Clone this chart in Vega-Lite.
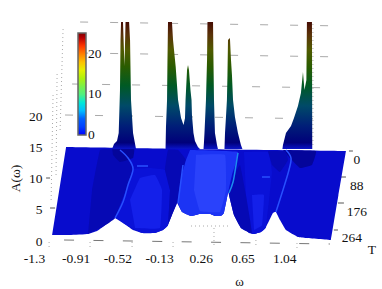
{"$schema":"https://vega.github.io/schema/vega-lite/v6.json","width":382,"height":289,"padding":0,"autosize":"none","background":"white","config":{"view":{"stroke":null},"font":"Liberation Serif"},"resolve":{"scale":{"color":"independent"}},"encoding":{"x":{"field":"w","type":"quantitative","scale":{"domain":[-1.786,1.786],"nice":false,"zero":false},"axis":{"values":[-1.3,-0.91,-0.52,-0.13,0.26,0.65,1.04],"labelExpr":"''+datum.value","grid":false,"domain":false,"ticks":false,"offset":-40,"labelPadding":2,"labelOffset":-18,"labelFont":"Liberation Serif","labelFontSize":13.5,"labelColor":"#111","labelFlush":false,"labelOverlap":false,"title":"ω","titleFont":"Liberation Serif","titleFontSize":13,"titleFontWeight":"normal","titleColor":"#111","titleX":239,"titleY":32,"titleBaseline":"middle"}},"y":{"field":"a","type":"quantitative","scale":{"domain":[-7.68,38.56],"nice":false,"zero":false},"axis":{"values":[0,5,10,15,20],"format":"d","grid":false,"domain":false,"ticks":false,"offset":-46,"labelPadding":4,"labelFont":"Liberation Serif","labelFontSize":13.5,"labelColor":"#111","labelFlush":false,"labelOverlap":false,"title":"A(ω)","titleFont":"Liberation Serif","titleFontSize":13.5,"titleFontWeight":"normal","titleColor":"#111","titleX":-24,"titleY":178}}},"layer":[{"data":{"values":[{"p":"h1","w":-1.037,"a":35.04},{"p":"h1","w":1.449,"a":34.4},{"p":"h2","w":-1.037,"a":30.08},{"p":"h2","w":1.449,"a":29.44},{"p":"h3","w":-1.112,"a":25.12},{"p":"h3","w":1.393,"a":24.48},{"p":"h4","w":-1.178,"a":20.16},{"p":"h4","w":1.29,"a":19.52}]},"mark":{"type":"line","stroke":"#aaa","strokeWidth":1,"strokeDash":[8,22]},"encoding":{"detail":{"field":"p"}}},{"data":{"values":[{"p":"l1","w":-1.308,"a":6.56},{"p":"l1","w":-1.29,"a":23.36},{"p":"l2","w":-1.262,"a":10.56},{"p":"l2","w":-1.252,"a":27.04},{"p":"l3","w":-1.224,"a":17.76},{"p":"l3","w":-1.196,"a":34.08},{"p":"l4","w":1.14,"a":34.72},{"p":"l4","w":1.14,"a":15.2},{"p":"f0","w":-1.327,"a":-0.16},{"p":"f0","w":-1.327,"a":-0.96},{"p":"f1","w":-0.944,"a":-0.16},{"p":"f1","w":-0.944,"a":-0.96},{"p":"f2","w":-0.551,"a":-0.16},{"p":"f2","w":-0.551,"a":-0.96},{"p":"f3","w":-0.168,"a":-0.16},{"p":"f3","w":-0.168,"a":-0.96},{"p":"f4","w":0.215,"a":2.08},{"p":"f4","w":0.215,"a":-1.12},{"p":"f5","w":0.607,"a":0.16},{"p":"f5","w":0.607,"a":-0.96},{"p":"f6","w":0.991,"a":-0.32},{"p":"f6","w":0.991,"a":-1.12},{"p":"b0","w":0,"a":2.4},{"p":"b0","w":0.346,"a":2.4}]},"mark":{"type":"line","stroke":"#aaa","strokeWidth":1,"strokeDash":[1,3]},"encoding":{"detail":{"field":"p"}}},{"data":{"values":[{"p":"front","w":-1.187,"a":0.16},{"p":"front","w":1.299,"a":-0.48}]},"mark":{"type":"line","stroke":"#777","strokeWidth":1,"strokeDash":[10,19.4]},"encoding":{"detail":{"field":"p"}}},{"data":{"values":[{"p":"t0","w":1.477,"a":14.4},{"p":"t0","w":1.514,"a":14.4},{"p":"t1","w":1.402,"a":10.24},{"p":"t1","w":1.449,"a":10.24},{"p":"t2","w":1.374,"a":6.08},{"p":"t2","w":1.43,"a":6.08},{"p":"t3","w":1.336,"a":1.76},{"p":"t3","w":1.374,"a":1.76},{"p":"y1","w":-1.355,"a":10.08},{"p":"y1","w":-1.318,"a":10.08},{"p":"y2","w":-1.318,"a":5.28},{"p":"y2","w":-1.271,"a":5.28}]},"mark":{"type":"line","stroke":"#555","strokeWidth":1},"encoding":{"detail":{"field":"p"}}},{"data":{"values":[{"p":"m","s":"base","w":-1.168,"a":15.04},{"p":"m","s":"base","w":-1.168,"a":15.04},{"p":"m","s":"base","w":0,"a":14.72},{"p":"m","s":"base","w":1.449,"a":14.4},{"p":"m","s":"base","w":1.449,"a":14.4},{"p":"m","s":"base","w":1.449,"a":14.4},{"p":"m","s":"base","w":1.378,"a":7.3},{"p":"m","s":"base","w":1.308,"a":0.16},{"p":"m","s":"base","w":1.308,"a":0.16},{"p":"m","s":"base","w":1.308,"a":0.16},{"p":"m","s":"base","w":1.075,"a":0.48},{"p":"m","s":"base","w":1,"a":0.64},{"p":"m","s":"base","w":0.888,"a":1.76},{"p":"m","s":"base","w":0.832,"a":3.36},{"p":"m","s":"base","w":0.794,"a":4.64},{"p":"m","s":"base","w":0.766,"a":4.48},{"p":"m","s":"base","w":0.701,"a":2.24},{"p":"m","s":"base","w":0.654,"a":1.44},{"p":"m","s":"base","w":0.589,"a":1.12},{"p":"m","s":"base","w":0.533,"a":1.44},{"p":"m","s":"base","w":0.467,"a":2.08},{"p":"m","s":"base","w":0.402,"a":4.16},{"p":"m","s":"base","w":0.355,"a":7.36},{"p":"m","s":"base","w":0.346,"a":7.68},{"p":"m","s":"base","w":0.308,"a":4.48},{"p":"m","s":"base","w":0.28,"a":4},{"p":"m","s":"base","w":0.224,"a":4},{"p":"m","s":"base","w":0.178,"a":4.32},{"p":"m","s":"base","w":0.084,"a":4.32},{"p":"m","s":"base","w":0,"a":4},{"p":"m","s":"base","w":-0.084,"a":4.64},{"p":"m","s":"base","w":-0.131,"a":6.08},{"p":"m","s":"base","w":-0.178,"a":4.16},{"p":"m","s":"base","w":-0.215,"a":2.56},{"p":"m","s":"base","w":-0.262,"a":1.76},{"p":"m","s":"base","w":-0.336,"a":1.28},{"p":"m","s":"base","w":-0.458,"a":1.28},{"p":"m","s":"base","w":-0.542,"a":1.76},{"p":"m","s":"base","w":-0.607,"a":2.56},{"p":"m","s":"base","w":-0.664,"a":3.36},{"p":"m","s":"base","w":-0.71,"a":3.68},{"p":"m","s":"base","w":-0.757,"a":3.2},{"p":"m","s":"base","w":-0.813,"a":2.4},{"p":"m","s":"base","w":-0.879,"a":1.6},{"p":"m","s":"base","w":-0.963,"a":1.12},{"p":"m","s":"base","w":-1.131,"a":0.96},{"p":"m","s":"base","w":-1.299,"a":0.96},{"p":"m","s":"base","w":-1.299,"a":0.96},{"p":"A","s":"darkish","w":-0.963,"a":1.12},{"p":"A","s":"darkish","w":-0.813,"a":2.4},{"p":"A","s":"darkish","w":-0.71,"a":3.68},{"p":"A","s":"darkish","w":-0.589,"a":8.96},{"p":"A","s":"darkish","w":-0.542,"a":11.52},{"p":"A","s":"darkish","w":-0.589,"a":13.28},{"p":"A","s":"darkish","w":-0.664,"a":14.56},{"p":"A","s":"darkish","w":-0.85,"a":14.56},{"p":"A","s":"darkish","w":-0.925,"a":8.16},{"p":"B","s":"midlow","w":-0.71,"a":3.68},{"p":"B","s":"midlow","w":-0.607,"a":2.56},{"p":"B","s":"midlow","w":-0.458,"a":1.28},{"p":"B","s":"midlow","w":-0.336,"a":1.28},{"p":"B","s":"midlow","w":-0.262,"a":1.76},{"p":"B","s":"midlow","w":-0.215,"a":2.56},{"p":"B","s":"midlow","w":-0.196,"a":8.16},{"p":"B","s":"midlow","w":-0.243,"a":11.36},{"p":"B","s":"midlow","w":-0.383,"a":11.68},{"p":"B","s":"midlow","w":-0.542,"a":11.52},{"p":"B","s":"midlow","w":-0.589,"a":8.96},{"p":"B2","s":"mid","w":-0.523,"a":2.08},{"p":"B2","s":"mid","w":-0.29,"a":2.08},{"p":"B2","s":"mid","w":-0.271,"a":8.16},{"p":"B2","s":"mid","w":-0.336,"a":10.56},{"p":"B2","s":"mid","w":-0.477,"a":10.08},{"p":"B2","s":"mid","w":-0.57,"a":6.56},{"p":"C","s":"darkish","w":-0.215,"a":2.56},{"p":"C","s":"darkish","w":-0.178,"a":4.16},{"p":"C","s":"darkish","w":-0.131,"a":6.08},{"p":"C","s":"darkish","w":-0.093,"a":10.08},{"p":"C","s":"darkish","w":-0.047,"a":12.96},{"p":"C","s":"darkish","w":-0.121,"a":14.56},{"p":"C","s":"darkish","w":-0.215,"a":14.56},{"p":"C","s":"darkish","w":-0.243,"a":11.36},{"p":"C","s":"darkish","w":-0.196,"a":8.16},{"p":"mid2","s":"midlow","w":0.495,"a":14.24},{"p":"mid2","s":"midlow","w":0.72,"a":14.24},{"p":"mid2","s":"midlow","w":0.757,"a":11.04},{"p":"mid2","s":"midlow","w":0.701,"a":2.24},{"p":"mid2","s":"midlow","w":0.654,"a":1.44},{"p":"mid2","s":"midlow","w":0.589,"a":1.12},{"p":"mid2","s":"midlow","w":0.533,"a":1.44},{"p":"mid2","s":"midlow","w":0.514,"a":7.36},{"p":"mid3","s":"mid","w":0.57,"a":7.36},{"p":"mid3","s":"mid","w":0.682,"a":7.36},{"p":"mid3","s":"mid","w":0.664,"a":2.56},{"p":"mid3","s":"mid","w":0.589,"a":1.76},{"p":"c1","s":"bright","w":-0.009,"a":14.56},{"p":"c1","s":"bright","w":0.439,"a":14.24},{"p":"c1","s":"bright","w":0.383,"a":10.56},{"p":"c1","s":"bright","w":0.346,"a":7.68},{"p":"c1","s":"bright","w":0.308,"a":4.48},{"p":"c1","s":"bright","w":0.28,"a":4},{"p":"c1","s":"bright","w":0.224,"a":4},{"p":"c1","s":"bright","w":0.178,"a":4.32},{"p":"c1","s":"bright","w":0.084,"a":4.32},{"p":"c1","s":"bright","w":0,"a":4},{"p":"c1","s":"bright","w":-0.084,"a":4.64},{"p":"c1","s":"bright","w":-0.121,"a":6.08},{"p":"c1","s":"bright","w":-0.093,"a":10.08},{"p":"c1","s":"bright","w":-0.047,"a":12.96},{"p":"c2","s":"bright2","w":0.047,"a":13.76},{"p":"c2","s":"bright2","w":0.318,"a":13.76},{"p":"c2","s":"bright2","w":0.327,"a":8.16},{"p":"c2","s":"bright2","w":0.271,"a":4.64},{"p":"c2","s":"bright2","w":0.084,"a":4.8},{"p":"c2","s":"bright2","w":0.028,"a":8.16},{"p":"d1","s":"darkish","w":0.383,"a":9.76},{"p":"d1","s":"darkish","w":0.458,"a":12.16},{"p":"d1","s":"darkish","w":0.514,"a":7.36},{"p":"d1","s":"darkish","w":0.57,"a":1.28},{"p":"d1","s":"darkish","w":0.467,"a":2.08},{"p":"d1","s":"darkish","w":0.402,"a":4.16},{"p":"d1","s":"darkish","w":0.355,"a":7.36},{"p":"d2","s":"navy","w":0.86,"a":14.56},{"p":"d2","s":"navy","w":1.168,"a":14.4},{"p":"d2","s":"navy","w":1.131,"a":12.16},{"p":"d2","s":"navy","w":1.019,"a":11.68},{"p":"d2","s":"navy","w":0.925,"a":13.28},{"p":"d3","s":"darkish","w":0.72,"a":14.4},{"p":"d3","s":"darkish","w":0.879,"a":14.4},{"p":"d3","s":"darkish","w":0.907,"a":12.96},{"p":"d3","s":"darkish","w":0.832,"a":11.04},{"p":"d3","s":"darkish","w":0.757,"a":12.16},{"p":"d4","s":"navy","w":-0.738,"a":14.88},{"p":"d4","s":"navy","w":-0.533,"a":14.88},{"p":"d4","s":"navy","w":-0.542,"a":13.28},{"p":"d4","s":"navy","w":-0.664,"a":12.64},{"p":"d4","s":"navy","w":-0.729,"a":13.76}]},"mark":{"type":"line","filled":true,"interpolate":"cardinal","tension":0.75},"encoding":{"detail":{"field":"p"},"order":{"value":null},"color":{"field":"s","type":"nominal","legend":null,"scale":{"domain":["base","darkish","midlow","mid","bright","bright2","navy"],"range":["#080ccd","#0609b4","#0a12d8","#1420ea","#1c34f4","#2a42fb","#04059a"]}}}},{"data":{"values":[{"p":"r1","s":"ridge","w":-0.664,"a":14.56},{"p":"r1","s":"ridge","w":-0.589,"a":13.28},{"p":"r1","s":"ridge","w":-0.542,"a":11.52},{"p":"r1","s":"ridge","w":-0.589,"a":8.96},{"p":"r1","s":"ridge","w":-0.636,"a":6.24},{"p":"r1","s":"ridge","w":-0.71,"a":3.68},{"p":"r2","s":"ridge","w":-0.075,"a":12.16},{"p":"r2","s":"ridge","w":-0.093,"a":9.76},{"p":"r2","s":"ridge","w":-0.121,"a":6.08},{"p":"r3","s":"cyan","w":0.439,"a":14.08},{"p":"r3","s":"cyan","w":0.421,"a":12.16},{"p":"r3","s":"cyan","w":0.393,"a":9.44},{"p":"r3","s":"cyan","w":0.355,"a":7.68},{"p":"r4","s":"ridge","w":0.888,"a":14.56},{"p":"r4","s":"ridge","w":0.935,"a":13.28},{"p":"r4","s":"ridge","w":0.916,"a":11.36},{"p":"r4","s":"ridge","w":0.86,"a":8.16},{"p":"r4","s":"ridge","w":0.794,"a":4.64},{"p":"r5","s":"ridge","w":-0.505,"a":12},{"p":"r5","s":"ridge","w":-0.402,"a":12},{"p":"r6","s":"ridge","w":0.664,"a":10.24},{"p":"r6","s":"ridge","w":0.738,"a":10.24}]},"mark":{"type":"line","strokeWidth":1.5,"interpolate":"cardinal"},"encoding":{"detail":{"field":"p"},"order":{"value":null},"color":{"field":"s","type":"nominal","legend":null,"scale":{"domain":["ridge","cyan"],"range":["#2850ff","#1c8cf0"]}}}},{"data":{"values":[{"w":-0.738,"a":14.72},{"w":-0.72,"a":15.52},{"w":-0.692,"a":16},{"w":-0.676,"a":17.28},{"w":-0.664,"a":24.16},{"w":-0.659,"a":32.16},{"w":-0.654,"a":35.04},{"w":-0.636,"a":35.04},{"w":-0.622,"a":28},{"w":-0.612,"a":35.04},{"w":-0.579,"a":35.04},{"w":-0.57,"a":32.16},{"w":-0.561,"a":22.56},{"w":-0.542,"a":17.28},{"w":-0.523,"a":15.52},{"w":-0.514,"a":14.72},{"w":-0.238,"a":14.72},{"w":-0.234,"a":18.24},{"w":-0.224,"a":22.56},{"w":-0.22,"a":28.96},{"w":-0.215,"a":35.04},{"w":-0.178,"a":35.04},{"w":-0.168,"a":32.16},{"w":-0.143,"a":27.84},{"w":-0.121,"a":22.56},{"w":-0.093,"a":19.68},{"w":-0.07,"a":18.56},{"w":-0.056,"a":19.68},{"w":-0.051,"a":22.56},{"w":-0.037,"a":27.36},{"w":-0.028,"a":28.16},{"w":-0.019,"a":27.36},{"w":-0.005,"a":24.16},{"w":0.005,"a":22.56},{"w":0.009,"a":20.16},{"w":0.023,"a":17.28},{"w":0.037,"a":16},{"w":0.065,"a":15.04},{"w":0.084,"a":14.72},{"w":0.117,"a":14.72},{"w":0.121,"a":15.68},{"w":0.126,"a":17.28},{"w":0.14,"a":22.56},{"w":0.15,"a":28.96},{"w":0.154,"a":35.04},{"w":0.206,"a":35.04},{"w":0.21,"a":28.96},{"w":0.215,"a":22.56},{"w":0.224,"a":17.28},{"w":0.243,"a":15.36},{"w":0.252,"a":14.72},{"w":0.313,"a":14.72},{"w":0.318,"a":17.28},{"w":0.327,"a":19.84},{"w":0.336,"a":22.56},{"w":0.341,"a":26.56},{"w":0.346,"a":32.16},{"w":0.364,"a":32.48},{"w":0.374,"a":28.96},{"w":0.383,"a":26.56},{"w":0.393,"a":22.56},{"w":0.411,"a":19.84},{"w":0.439,"a":17.28},{"w":0.467,"a":15.36},{"w":0.481,"a":14.72},{"w":0.855,"a":14.72},{"w":0.86,"a":15.36},{"w":0.888,"a":17.28},{"w":0.935,"a":18.4},{"w":0.963,"a":19.68},{"w":1,"a":21.6},{"w":1.028,"a":23.68},{"w":1.047,"a":27.04},{"w":1.061,"a":24.16},{"w":1.079,"a":25.76},{"w":1.084,"a":35.04},{"w":1.131,"a":35.04},{"w":1.134,"a":14.72}]},"mark":{"type":"area","color":{"gradient":"linear","x1":0,"y1":0,"x2":0,"y2":1,"stops":[{"offset":0,"color":"#460c04"},{"offset":0.1,"color":"#5a3208"},{"offset":0.22,"color":"#505a00"},{"offset":0.35,"color":"#2a5c00"},{"offset":0.5,"color":"#005a24"},{"offset":0.66,"color":"#004a68"},{"offset":0.82,"color":"#001e78"},{"offset":0.95,"color":"#00007a"},{"offset":1,"color":"#0a14c8"}]}},"encoding":{"y2":{"datum":14.72}}},{"data":{"values":[{"w":1.551,"a":12.96,"t":"0"},{"w":1.551,"a":8.8,"t":"88"},{"w":1.551,"a":4.64,"t":"176"},{"w":1.505,"a":0.48,"t":"264"},{"w":1.692,"a":-1.44,"t":"T"}]},"mark":{"type":"text","font":"Liberation Serif","fontSize":13.5,"color":"#111","align":"center","baseline":"middle"},"encoding":{"text":{"field":"t"}}},{"data":{"values":[{"w":0,"a":0,"v":0},{"w":0,"a":0,"v":25.2}]},"mark":{"type":"point","filled":true,"size":0,"opacity":1},"encoding":{"color":{"field":"v","type":"quantitative","scale":{"domain":[-0.01,4,7,10,13,16.5,20,22.5,25.2],"range":["#0000ff","#0060ff","#20e0f0","#50f080","#90f020","#f0f000","#ff8000","#ff0000","#800000"]},"legend":{"orient":"none","legendX":78,"legendY":33,"title":null,"values":[0,10,20],"format":"d","direction":"vertical","gradientLength":102,"gradientThickness":8,"gradientStrokeColor":"#666","gradientStrokeWidth":1.5,"labelFont":"Liberation Serif","labelFontSize":13.5,"labelColor":"#111","labelOffset":2}}}}]}
